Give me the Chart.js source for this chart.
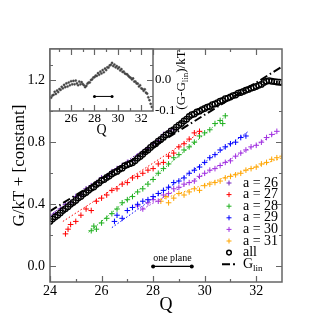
<!DOCTYPE html>
<html>
<head>
<meta charset="utf-8">
<script src="https://cdn.jsdelivr.net/npm/chart.js@4.4.1/dist/chart.umd.min.js"></script>
<style>
  body { margin: 0; background: #fff; }
  #wrap { position: relative; width: 332px; height: 332px; }
  canvas { position: absolute; left: 0; top: 0; }
</style>
</head>
<body>
<div id="wrap">
  <canvas id="main" width="332" height="332"></canvas>
  <canvas id="inset" width="200" height="140"></canvas>
</div>
<script>
// valori letti a occhio dal grafico
const qAll = [24.0, 24.1, 24.2, 24.3, 24.4, 24.5, 24.6, 24.7, 24.8, 24.9,
  25.0, 25.1, 25.2, 25.3, 25.4, 25.5, 25.6, 25.7, 25.8, 25.9,
  26.0, 26.1, 26.2, 26.3, 26.4, 26.5, 26.6, 26.7, 26.8, 26.9,
  27.0, 27.1, 27.2, 27.3, 27.4, 27.5, 27.6, 27.7, 27.8, 27.9,
  28.0, 28.1, 28.2, 28.3, 28.4, 28.5, 28.6, 28.7, 28.8, 28.9,
  29.0, 29.1, 29.2, 29.3, 29.4, 29.5, 29.6, 29.7, 29.8, 29.9,
  30.0, 30.1, 30.2, 30.3, 30.4, 30.5, 30.6, 30.7, 30.8, 30.9,
  31.0, 31.1, 31.2, 31.3, 31.4, 31.5, 31.6, 31.7, 31.8, 31.9,
  32.0, 32.1, 32.2, 32.3, 32.4, 32.5, 32.6, 32.7, 32.8, 32.9, 33.0]
const gAll = [0.290, 0.305, 0.318, 0.330, 0.345, 0.360, 0.372, 0.385, 0.400, 0.412,
  0.425, 0.440, 0.450, 0.466, 0.476, 0.490, 0.503, 0.512, 0.528, 0.538,
  0.553, 0.560, 0.573, 0.582, 0.596, 0.605, 0.612, 0.626, 0.633, 0.648,
  0.655, 0.662, 0.668, 0.680, 0.696, 0.708, 0.722, 0.738, 0.750, 0.766,
  0.780, 0.790, 0.806, 0.818, 0.832, 0.847, 0.856, 0.872, 0.880, 0.897,
  0.909, 0.920, 0.936, 0.948, 0.965, 0.977, 0.982, 0.994, 1.000, 1.010,
  1.017, 1.026, 1.030, 1.042, 1.046, 1.054, 1.064, 1.068, 1.080, 1.084,
  1.091, 1.100, 1.104, 1.116, 1.120, 1.127, 1.134, 1.140, 1.148, 1.152,
  1.159, 1.166, 1.172, 1.185, 1.192, 1.196, 1.192, 1.190, 1.188, 1.186, 1.184]

// inset: (G-Glin)/kT
const qDev = [24.3, 24.4, 24.5, 24.6, 24.7, 24.8, 24.9,
  25.0, 25.1, 25.2, 25.3, 25.4, 25.5, 25.6, 25.7, 25.8, 25.9,
  26.0, 26.1, 26.2, 26.3, 26.4, 26.5, 26.6, 26.7, 26.8, 26.9,
  27.0, 27.1, 27.2, 27.3, 27.4, 27.5, 27.6, 27.7, 27.8, 27.9,
  28.0, 28.1, 28.2, 28.3, 28.4, 28.5, 28.6, 28.7, 28.8, 28.9,
  29.0, 29.1, 29.2, 29.3, 29.4, 29.5, 29.6, 29.7, 29.8, 29.9,
  30.0, 30.1, 30.2, 30.3, 30.4, 30.5, 30.6, 30.7, 30.8, 30.9,
  31.0, 31.1, 31.2, 31.3, 31.4, 31.5, 31.6, 31.7, 31.8, 31.9,
  32.0, 32.1, 32.2, 32.3, 32.4, 32.5, 32.6, 32.7, 32.8, 32.9, 33.0]
const gDev = [-0.057, -0.050, -0.048, -0.038, -0.045, -0.034, -0.039,
  -0.029, -0.032, -0.022, -0.027, -0.016, -0.023, -0.011, -0.021, -0.008, -0.017,
  -0.004, -0.014, -0.003, -0.014, -0.002, -0.011, -0.017, -0.005, -0.014, -0.007,
  -0.013, -0.017, -0.023, -0.019, -0.012, -0.008, -0.008, 0.000, 0.002, 0.008,
  0.009, 0.014, 0.013, 0.022, 0.017, 0.027, 0.021, 0.032, 0.025, 0.037,
  0.032, 0.041, 0.040, 0.047, 0.049, 0.055, 0.045, 0.050, 0.041, 0.045,
  0.037, 0.041, 0.031, 0.035, 0.026, 0.027, 0.021, 0.019, 0.018, 0.013,
  0.009, 0.007, 0.002, 0.005, -0.005, -0.005, -0.011, -0.012, -0.021, -0.017,
  -0.027, -0.029, -0.035, -0.030, -0.041, -0.044, -0.056, -0.065, -0.077, -0.087, -0.100]

const q26 = [24.0, 24.2, 24.4, 24.6, 24.8, 25.0, 25.2, 25.4, 25.6, 25.8, 26.0, 26.2, 26.4,
  26.6, 26.8, 27.0, 27.2, 27.4, 27.6, 27.8, 28.0, 28.2, 28.4, 28.6, 28.8]
const g26 = [0.33, 0.34, 0.37, 0.40, 0.41, 0.45, 0.46, 0.50, 0.52, 0.54, 0.57, 0.58, 0.61,
  0.63, 0.65, 0.67, 0.68, 0.71, 0.73, 0.76, 0.79, 0.81, 0.85, 0.87, 0.88]
const q27 = [24.6, 24.7, 24.8, 25.0, 25.2, 25.4, 25.6, 25.8, 26.0, 26.2, 26.4, 26.6, 26.8, 27.0,
  27.2, 27.4, 27.6, 27.8, 28.0, 28.2, 28.4, 28.6, 28.8, 29.0, 29.2, 29.4, 29.6, 29.8]
const g27 = [0.21, 0.24, 0.27, 0.29, 0.33, 0.37, 0.36, 0.42, 0.44, 0.46, 0.49, 0.50, 0.53, 0.54,
  0.57, 0.58, 0.60, 0.62, 0.63, 0.66, 0.67, 0.71, 0.73, 0.77, 0.79, 0.82, 0.86, 0.87]
const q28 = [25.6, 25.7, 25.8, 26.0, 26.2, 26.4, 26.6, 26.8, 27.0, 27.2, 27.4, 27.6, 27.8, 28.0,
  28.2, 28.4, 28.6, 28.8, 29.0, 29.2, 29.4, 29.6, 29.8, 30.0, 30.2, 30.4, 30.6, 30.7, 30.8]
const g28 = [0.23, 0.26, 0.24, 0.28, 0.31, 0.34, 0.37, 0.41, 0.43, 0.45, 0.48, 0.50, 0.53, 0.56,
  0.60, 0.63, 0.66, 0.70, 0.72, 0.75, 0.77, 0.80, 0.84, 0.86, 0.88, 0.92, 0.94, 0.92, 0.97]
const q29 = [26.5, 26.6, 26.8, 27.0, 27.2, 27.4, 27.6, 27.8, 28.0, 28.2, 28.4, 28.6, 28.8, 29.0,
  29.2, 29.4, 29.6, 29.8, 30.0, 30.2, 30.4, 30.6, 30.8, 31.0, 31.2, 31.4, 31.6]
const g29 = [0.29, 0.33, 0.31, 0.36, 0.38, 0.40, 0.42, 0.43, 0.45, 0.47, 0.49, 0.51, 0.54, 0.55,
  0.57, 0.60, 0.62, 0.64, 0.67, 0.70, 0.72, 0.75, 0.77, 0.79, 0.80, 0.83, 0.84]
const q30 = [27.4, 27.6, 27.8, 28.0, 28.2, 28.4, 28.6, 28.8, 29.0, 29.2, 29.4, 29.6, 29.8, 30.0,
  30.2, 30.4, 30.6, 30.8, 31.0, 31.2, 31.4, 31.6, 31.8, 32.0, 32.2, 32.4, 32.6, 32.8]
const g30 = [0.39, 0.37, 0.41, 0.43, 0.42, 0.46, 0.47, 0.50, 0.51, 0.53, 0.54, 0.55, 0.58, 0.60,
  0.62, 0.63, 0.65, 0.67, 0.68, 0.71, 0.73, 0.75, 0.77, 0.78, 0.80, 0.83, 0.85, 0.87]
const q31 = [28.3, 28.5, 28.6, 28.8, 29.0, 29.2, 29.4, 29.6, 29.8, 30.0, 30.2, 30.4, 30.6,
  30.8, 31.0, 31.2, 31.4, 31.6, 31.8, 32.0, 32.2, 32.4, 32.6, 32.8, 33.0]
const g31 = [0.42, 0.45, 0.41, 0.44, 0.47, 0.46, 0.48, 0.50, 0.49, 0.52, 0.53, 0.54, 0.55,
  0.57, 0.58, 0.59, 0.60, 0.62, 0.63, 0.64, 0.66, 0.67, 0.69, 0.70, 0.71]

// rette di fit (estremi)
const fitQ = { a26: [24.0, 28.8], a27: [24.5, 29.9], a28: [25.5, 30.8], a29: [26.4, 31.7], a30: [27.5, 32.8], a31: [28.3, 33.0] }
const fitG = { a26: [0.33, 0.89], a27: [0.29, 0.87], a28: [0.22, 0.965], a29: [0.25, 0.87], a30: [0.36, 0.86], a31: [0.43, 0.70] }
const linQ = [24, 33]
const linG = [0.356, 1.287]
const planeQ = [28, 29.5]
const planeG = [0, 0]
const planeDev = [-0.053, -0.053]

const labels = ["a = 26", "a = 27", "a = 28", "a = 29", "a = 30", "a = 31"]
const keys = ["a26", "a27", "a28", "a29", "a30", "a31"]
const colori = ["#7221bc", "#ff0000", "#1fb01f", "#0000ff", "#a030e0", "#ffa500"]

const xMajor = [24, 26, 28, 30, 32]
const xMinor = [25, 27, 29, 31]
const yMajor = [0, 0.4, 0.8, 1.2]
const yMinor = [0.2, 0.6, 1.0]
const ixMajor = [26, 28, 30, 32]
const ixMinor = [25, 27, 29, 31]
const iyMajor = [0]
const iyMinor = [-0.05, 0.05]
const iyLabels = [-0.1, 0]

const serif = "'Liberation Serif', 'DejaVu Serif', serif"
const pts = (xs, ys) => xs.map((x, i) => ({ x: x, y: ys[i] }))

// cornice + tacche verso l'interno su tutti i lati
const frameTicks = {
  id: 'frameTicks',
  beforeDatasetsDraw(chart, args, o) {
    if (!o.white) return
    const a = chart.chartArea, ctx = chart.ctx
    ctx.save()
    ctx.fillStyle = '#fff'
    ctx.fillRect(a.left, a.top, a.right - a.left, a.bottom - a.top)
    ctx.restore()
  },
  afterDatasetsDraw(chart, args, o) {
    const a = chart.chartArea, ctx = chart.ctx
    const xs = chart.scales.x, ys = chart.scales.y
    ctx.save()
    ctx.strokeStyle = '#666'
    ctx.lineWidth = 1.2
    ctx.beginPath()
    const vt = (v, len) => {
      const p = Math.round(xs.getPixelForValue(v)) + 0.5
      ctx.moveTo(p, a.bottom); ctx.lineTo(p, a.bottom - len)
      ctx.moveTo(p, a.top); ctx.lineTo(p, a.top + len)
    }
    const ht = (v, len) => {
      const p = Math.round(ys.getPixelForValue(v)) + 0.5
      ctx.moveTo(a.left, p); ctx.lineTo(a.left + len, p)
      ctx.moveTo(a.right, p); ctx.lineTo(a.right - len, p)
    }
    o.xMajor.forEach(v => vt(v, 6))
    o.xMinor.forEach(v => vt(v, 3))
    o.yMajor.forEach(v => ht(v, 6))
    o.yMinor.forEach(v => ht(v, 3))
    ctx.stroke()
    ctx.lineWidth = 1.5
    ctx.strokeRect(a.left, a.top, a.right - a.left, a.bottom - a.top)
    ctx.restore()
  }
}

// titoli, legenda e scritta "one plane"
const testi = {
  id: 'testi',
  afterDraw(chart) {
    const ctx = chart.ctx, a = chart.chartArea
    ctx.save()
    ctx.fillStyle = '#000'
    ctx.textAlign = 'center'
    ctx.textBaseline = 'middle'
    ctx.font = '18px ' + serif
    ctx.fillText('Q', (a.left + a.right) / 2, 305)
    ctx.save()
    ctx.translate(20, (a.top + a.bottom) / 2)
    ctx.rotate(-Math.PI / 2)
    ctx.font = '17px ' + serif
    ctx.fillText('G/kT + [constant]', 0, 0)
    ctx.restore()

    const xs = chart.scales.x, ys = chart.scales.y
    ctx.font = '10px ' + serif
    ctx.fillText('one plane', xs.getPixelForValue((planeQ[0] + planeQ[1]) / 2), ys.getPixelForValue(0) - 8)

    // legenda
    const mx = 229, tx = 243
    let y = 183
    ctx.textAlign = 'left'
    ctx.font = '14px ' + serif
    for (let i = 0; i < labels.length; i++) {
      ctx.strokeStyle = colori[i]
      ctx.lineWidth = 1
      ctx.beginPath()
      ctx.moveTo(mx - 2.5, y); ctx.lineTo(mx + 2.5, y)
      ctx.moveTo(mx, y - 2.5); ctx.lineTo(mx, y + 2.5)
      ctx.stroke()
      ctx.fillText(labels[i], tx, y)
      y += 11.6
    }
    ctx.strokeStyle = '#000'
    ctx.lineWidth = 1.5
    ctx.beginPath()
    ctx.arc(mx, y, 2.3, 0, Math.PI * 2)
    ctx.stroke()
    ctx.fillText('all', tx, y)
    y += 11.6
    ctx.lineWidth = 2
    ctx.beginPath()
    ctx.moveTo(mx - 7, y); ctx.lineTo(mx + 1, y)
    ctx.moveTo(mx + 4, y); ctx.lineTo(mx + 6, y)
    ctx.stroke()
    ctx.fillText('G', tx, y)
    const w = ctx.measureText('G').width
    ctx.font = '9px ' + serif
    ctx.fillText('lin', tx + w, y + 4)
    ctx.restore()
  }
}

const testiInset = {
  id: 'testiInset',
  afterDraw(chart) {
    const ctx = chart.ctx, a = chart.chartArea
    ctx.save()
    ctx.fillStyle = '#000'
    ctx.textBaseline = 'middle'
    ctx.textAlign = 'center'
    ctx.font = '14px ' + serif
    ctx.fillText('Q', (a.left + a.right) / 2, 130)
    ctx.translate(182, (a.top + a.bottom) / 2)
    ctx.rotate(-Math.PI / 2)
    ctx.textAlign = 'left'
    const f1 = '13px ' + serif, f2 = '9px ' + serif
    ctx.font = f1
    const w1 = ctx.measureText('(G-G').width
    const w3 = ctx.measureText(')/kT').width
    ctx.font = f2
    const w2 = ctx.measureText('lin').width
    let x0 = -(w1 + w2 + w3) / 2
    ctx.font = f1
    ctx.fillText('(G-G', x0, 0)
    ctx.font = f2
    ctx.fillText('lin', x0 + w1, 4)
    ctx.font = f1
    ctx.fillText(')/kT', x0 + w1 + w2, 0)
    ctx.restore()
  }
}

// dataset principali
const ds = []
ds.push({ data: pts(linQ, linG), showLine: true, borderColor: '#000', borderWidth: 2,
  borderDash: [8, 3, 1.5, 3], pointRadius: 0, order: -1 })
ds.push({ data: pts(qAll, gAll), borderColor: '#000', backgroundColor: 'rgba(0,0,0,0)',
  pointRadius: 2.8, pointBorderWidth: 1.3, order: 0 })
ds.push({ data: pts(planeQ, planeG), showLine: true, borderColor: '#000', borderWidth: 1.2,
  pointRadius: 2, pointBackgroundColor: '#000', pointBorderWidth: 0, order: 0 })
const serie = [pts(q26, g26), pts(q27, g27), pts(q28, g28), pts(q29, g29), pts(q30, g30), pts(q31, g31)]
for (let i = 0; i < serie.length; i++) {
  ds.push({ data: serie[i], pointStyle: 'cross', pointRadius: 2.8, borderColor: colori[i],
    pointBorderWidth: 1, order: 2 + i })
  ds.push({ data: pts(fitQ[keys[i]], fitG[keys[i]]), showLine: true, borderColor: colori[i],
    borderWidth: 1, borderDash: [1.5, 2], pointRadius: 0, order: 10 + i })
}

new Chart(document.getElementById('main'), {
  type: 'scatter',
  data: { datasets: ds },
  options: {
    responsive: false,
    animation: false,
    devicePixelRatio: 1,
    layout: { padding: { top: 49, right: 50, left: 0, bottom: 0 } },
    plugins: {
      legend: { display: false },
      tooltip: { enabled: false },
      frameTicks: { xMajor: xMajor, xMinor: xMinor, yMajor: yMajor, yMinor: yMinor }
    },
    scales: {
      x: {
        type: 'linear', min: 24, max: 33,
        afterBuildTicks: s => { s.ticks = xMajor.map(v => ({ value: v })) },
        afterFit: s => { s.height = 50 },
        grid: { display: false, drawTicks: false }, border: { display: false },
        ticks: { font: { family: serif, size: 14 }, color: '#000', padding: 1, callback: v => String(v) }
      },
      y: {
        type: 'linear', min: -0.1, max: 1.4,
        afterBuildTicks: s => { s.ticks = yMajor.map(v => ({ value: v })) },
        afterFit: s => { s.width = 50 },
        grid: { display: false, drawTicks: false }, border: { display: false },
        ticks: { font: { family: serif, size: 14 }, color: '#000', padding: 5, callback: v => v.toFixed(1) }
      }
    }
  },
  plugins: [frameTicks, testi]
})

new Chart(document.getElementById('inset'), {
  type: 'scatter',
  data: {
    datasets: [
      { data: pts(planeQ, planeDev), showLine: true, borderColor: '#000', borderWidth: 1,
        pointRadius: 1.5, pointBackgroundColor: '#000', pointBorderWidth: 0 },
      { data: pts(qDev, gDev), pointRadius: 1.1, pointBackgroundColor: '#444', borderColor: '#444',
        pointBorderWidth: 0.4 }
    ]
  },
  options: {
    responsive: false,
    animation: false,
    devicePixelRatio: 1,
    layout: { padding: { top: 49, left: 50, right: 0, bottom: 0 } },
    plugins: {
      legend: { display: false },
      tooltip: { enabled: false },
      frameTicks: { white: true, xMajor: ixMajor, xMinor: ixMinor, yMajor: iyMajor, yMinor: iyMinor }
    },
    scales: {
      x: {
        type: 'linear', min: 24.2, max: 33,
        afterBuildTicks: s => { s.ticks = ixMajor.map(v => ({ value: v })) },
        afterFit: s => { s.height = 29 },
        grid: { display: false, drawTicks: false }, border: { display: false },
        ticks: { font: { family: serif, size: 13 }, color: '#000', padding: 0, callback: v => String(v) }
      },
      y: {
        type: 'linear', position: 'right', min: -0.1, max: 0.1,
        afterBuildTicks: s => { s.ticks = iyLabels.map(v => ({ value: v })) },
        afterFit: s => { s.width = 47 },
        grid: { display: false, drawTicks: false }, border: { display: false },
        ticks: { font: { family: serif, size: 13 }, color: '#000', padding: 2, callback: v => v.toFixed(1) }
      }
    }
  },
  plugins: [frameTicks, testiInset]
})
</script>
</body>
</html>
